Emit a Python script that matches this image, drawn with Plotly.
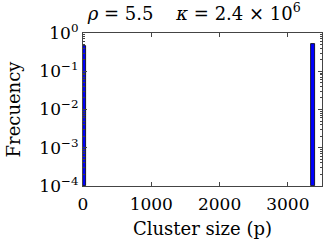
import plotly.graph_objects as go

cluster_size = [25, 3370]
frequency = [0.47, 0.53]
bar_width = [50, 50]
y_tickvals = [1e-4, 1e-3, 1e-2, 1e-1, 1e0]
y_ticktext = ["10<sup>−4</sup>", "10<sup>−3</sup>", "10<sup>−2</sup>", "10<sup>−1</sup>", "10<sup>0</sup>"]
x_tickvals = [0, 1000, 2000, 3000]
x_ticktext = ["0", "1000", "2000", "3000"]

font_family = "DejaVu Serif, serif"

fig = go.Figure()
fig.add_trace(go.Bar(
    x=cluster_size, y=frequency, width=bar_width,
    marker=dict(color="#0000ff", line=dict(color="black", width=0.8)),
    base=1e-4,
))

fig.update_layout(
    width=332, height=250,
    margin=dict(l=83, r=10, t=33, b=64, autoexpand=False),
    paper_bgcolor="white", plot_bgcolor="white",
    showlegend=False,
    font=dict(family=font_family, size=17, color="black"),
    title=dict(text="<i>ρ</i> = 5.5    <i>κ</i> = 2.4 × 10<sup>6</sup>",
               x=0.585, xanchor="center", y=0.945, yanchor="middle",
               font=dict(family=font_family, size=18)),
    bargap=0,
)
fig.update_xaxes(
    range=[0, 3500], tickvals=x_tickvals, ticktext=x_ticktext,
    ticks="inside", ticklen=4, tickcolor="#444", mirror="allticks",
    showline=True, linecolor="#444", linewidth=1.2, showgrid=False, zeroline=False,
    automargin=False, ticklabelstandoff=2,
    title=dict(text="Cluster size (p)", standoff=9, font=dict(size=18)),
    tickfont=dict(size=17),
)
fig.update_yaxes(
    type="log", range=[-4, 0], tickvals=y_tickvals, ticktext=y_ticktext,
    ticks="inside", ticklen=4, tickcolor="#444", mirror="allticks",
    showline=True, linecolor="#444", linewidth=1.2, showgrid=False, zeroline=False,
    automargin=False,
    minor=dict(ticks="inside", ticklen=2, tickcolor="#444", dtick="D1"),
    title=dict(text="Frecuency", standoff=14, font=dict(size=18)),
    tickfont=dict(size=17),
)

fig.write_html("out.html", config={"displayModeBar": False},
               post_script="document.body.style.margin='0';")
